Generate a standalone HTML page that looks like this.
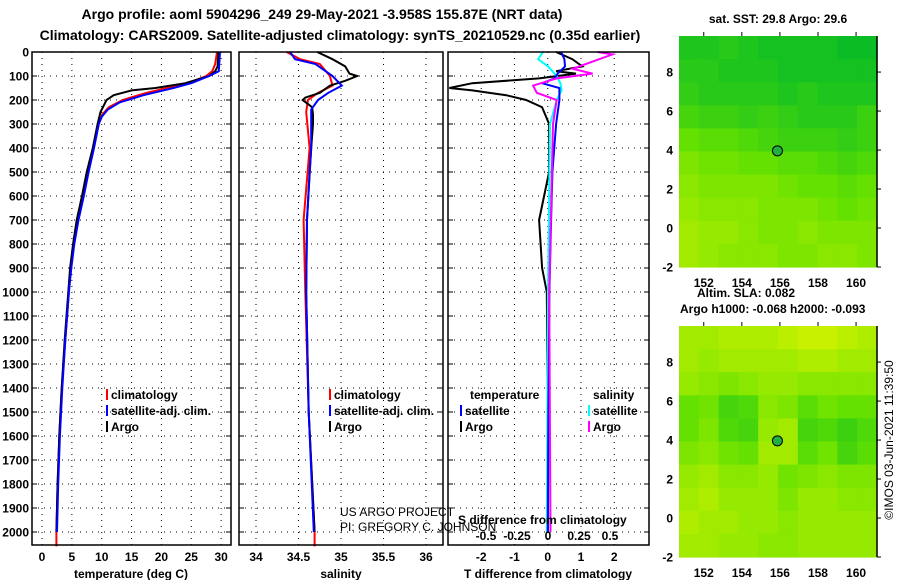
<!DOCTYPE html>
<html><head><meta charset="utf-8">
<style>
html,body{margin:0;padding:0;background:#fff;}
svg{display:block;font-family:"Liberation Sans",sans-serif;}
.b{font-weight:bold;}
</style></head>
<body>
<svg id="c" width="900" height="580" viewBox="0 0 900 580" xmlns="http://www.w3.org/2000/svg">
<text x="322" y="19" text-anchor="middle" class="b" font-size="14">Argo profile: aoml 5904296_249 29-May-2021 -3.958S 155.87E (NRT data)</text>
<text x="340" y="40" text-anchor="middle" class="b" font-size="14">Climatology: CARS2009. Satellite-adjusted climatology: synTS_20210529.nc (0.35d earlier)</text>
</svg>
<script>
// ---- data ----
const depthTicks=[0,100,200,300,400,500,600,700,800,900,1000,1100,1200,1300,1400,1500,1600,1700,1800,1900,2000];
const tempTicks=[0,5,10,15,20,25,30];
const salTicks=[34,34.5,35,35.5,36];
const salTickLabels=["34","34.5","35","35.5","36"];
const dtTicks=[-2,-1,0,1,2];
const dsTicks=[-0.5,-0.25,0,0.25,0.5];
const dsTickLabels=["-0.5","-0.25","0","0.25","0.5"];

const tArgoDepth=[0,20,60,80,100,130,150,160,180,200,250,300,400,500,600,700,800,900,1000,1200,1400,1600,1800,2000];
const tArgo=[29.5,29.5,29.4,29,28,24,19,15,12,10.8,9.8,9.3,8.5,7.5,6.7,5.8,5.2,4.7,4.4,3.8,3.3,2.9,2.6,2.4];
const tClimDepth=[0,50,80,100,130,150,170,200,230,260,300,400,500,600,700,800,900,1000,1200,1400,1600,1800,2000,2060];
const tClim=[29.3,29,28.5,27.5,24.5,21,17.5,13.5,11.2,10.1,9.5,8.6,7.5,6.8,5.9,5.3,4.8,4.5,3.9,3.3,2.9,2.6,2.4,2.4];
const tSatDepth=[0,80,100,130,150,180,210,240,270,300,400,500,600,700,800,900,1000,1200,1400,1600,1800,2000];
const tSat=[29.8,29.6,28,25,22,17,13,11,10,9.5,8.7,7.8,7,6.1,5.4,4.9,4.5,3.9,3.4,3,2.7,2.5];

const sArgoDepth=[0,30,60,90,100,120,140,170,190,200,230,260,300,400,500,700,1000,1500,2000];
const sArgo=[34.72,34.9,35.05,35.1,35.19,35.05,34.87,34.75,34.58,34.55,34.66,34.67,34.67,34.65,34.63,34.6,34.59,34.62,34.69];
const sClimDepth=[0,30,50,100,140,170,200,250,400,700,1000,1500,2000,2060];
const sClim=[34.36,34.52,34.75,34.87,34.9,34.73,34.61,34.59,34.63,34.56,34.58,34.62,34.69,34.69];
const sSatDepth=[0,30,50,100,140,170,200,240,400,700,1000,1500,2000];
const sSat=[34.4,34.46,34.7,34.9,35.01,34.85,34.73,34.65,34.65,34.6,34.59,34.62,34.68];

const dtArgoDepth=[0,30,60,80,90,110,130,150,160,180,200,230,300,500,700,900,1000,1500,2000];
const dtArgo=[0.25,0.74,1.04,0.25,0.85,-0.26,-2.27,-2.96,-2.27,-1.25,-0.65,-0.17,0.04,0.04,-0.26,-0.17,-0.03,0,0];
const dtSatDepth=[0,30,60,90,110,130,150,200,300,500,700,1000,1500,2000];
const dtSat=[0.4,0.5,0.52,0.3,0.2,-0.17,0.35,0.35,0.25,0.14,0.1,0.05,0.02,0];
const dsSatDepth=[0,30,60,100,130,160,200,300,1000,2000];
const dsSat=[-0.04,-0.08,0,0.07,0.1,0.11,0.07,0.016,0,-0.01];
const dsArgoDepth=[0,10,40,70,90,110,140,170,200,300,1000,2000];
const dsArgo=[0.4,0.52,0.36,0.2,0.36,0.07,-0.12,-0.09,0.07,0.04,0.01,0.02];

const lonTicks=[152,154,156,158,160];
const latTicks=[-2,0,2,4,6,8];
const floatLon=155.87, floatLat=3.96;
const sstGrid=[
[0.15,0.15,0.2,0.15,0.1,0.1,0.1,0.1,0.05,0.05],
[0.2,0.2,0.15,0.15,0.15,0.1,0.1,0.1,0.1,0.1],
[0.25,0.2,0.2,0.2,0.2,0.15,0.2,0.15,0.15,0.15],
[0.35,0.3,0.3,0.25,0.3,0.25,0.2,0.2,0.2,0.3],
[0.5,0.45,0.45,0.4,0.35,0.3,0.3,0.3,0.25,0.3],
[0.6,0.55,0.55,0.5,0.5,0.45,0.45,0.4,0.35,0.4],
[0.65,0.6,0.6,0.6,0.6,0.55,0.5,0.5,0.45,0.5],
[0.7,0.65,0.65,0.65,0.6,0.6,0.6,0.55,0.5,0.55],
[0.75,0.7,0.7,0.65,0.6,0.6,0.65,0.6,0.6,0.6],
[0.75,0.7,0.65,0.65,0.65,0.6,0.6,0.65,0.65,0.6]];
const slaGrid=[
[0.75,0.75,0.8,0.8,0.8,0.85,0.9,0.9,0.85,0.8],
[0.75,0.7,0.75,0.75,0.75,0.75,0.8,0.8,0.75,0.75],
[0.7,0.65,0.6,0.65,0.7,0.7,0.65,0.65,0.65,0.65],
[0.5,0.55,0.35,0.4,0.65,0.6,0.45,0.55,0.5,0.5],
[0.5,0.6,0.4,0.35,0.7,0.75,0.35,0.4,0.3,0.4],
[0.6,0.65,0.55,0.5,0.75,0.75,0.45,0.55,0.35,0.45],
[0.7,0.75,0.65,0.65,0.7,0.55,0.6,0.65,0.6,0.6],
[0.75,0.8,0.7,0.7,0.7,0.6,0.7,0.7,0.65,0.65],
[0.8,0.75,0.75,0.7,0.7,0.65,0.7,0.7,0.7,0.7],
[0.75,0.75,0.7,0.7,0.65,0.65,0.7,0.7,0.7,0.7]];

// ---- helpers ----
const svg=document.getElementById('c');
const NS='http://www.w3.org/2000/svg';
function mk(tag,attrs,parent){const e=document.createElementNS(NS,tag);for(const k in attrs)e.setAttribute(k,attrs[k]);(parent||svg).appendChild(e);return e;}
const TOP=52,BOT=545;
const yD=d=>TOP+d*0.24;
const panels=[
 {x0:32,x1:231,v0:-1.68,v1:31.65},
 {x0:239,x1:443,v0:33.8,v1:36.2},
 {x0:448,x1:649,v0:-3.0,v1:3.045}];
function sx(p,v){return p.x0+(v-p.v0)/(p.v1-p.v0)*(p.x1-p.x0);}
const sxDS=v=>548+v*124;

function grid(p,ticks){
 const g=mk('g',{});
 
 
 ticks.forEach(t=>{const x=sx(p,t);mk('line',{x1:x,x2:x,y1:TOP,y2:BOT,stroke:'#000','stroke-width':1,'stroke-dasharray':'1,5'},g);});
 depthTicks.forEach(d=>{const y=yD(d);mk('line',{x1:p.x0,x2:p.x1,y1:y,y2:y,stroke:'#000','stroke-width':1,'stroke-dasharray':'1,5'},g);
   mk('line',{x1:p.x0,x2:p.x0+5,y1:y,y2:y,stroke:'#000'},g);mk('line',{x1:p.x1-5,x2:p.x1,y1:y,y2:y,stroke:'#000'},g);});
}
function frame(p,name){const r=mk('rect',{x:p.x0,y:TOP,width:p.x1-p.x0,height:BOT-TOP,fill:'none',stroke:'#000','stroke-width':1.5});
 
 }
function line(xs,ds,fx,color,name){
 const pts=xs.map((v,i)=>fx(v).toFixed(1)+','+yD(ds[i]).toFixed(1)).join(' ');
 const l=mk('polyline',{points:pts,fill:'none',stroke:color,'stroke-width':2});
 
 
}
function txt(x,y,s,attrs,name){const t=mk('text',Object.assign({x:x,y:y,'font-size':12},attrs||{}));t.textContent=s;
 
 return t;}

// depth labels
depthTicks.forEach(d=>{txt(29,yD(d)+4.5,String(d),{'text-anchor':'end','font-weight':'bold'},'depth-tick-label');});

// panel 1 temperature
const P1=panels[0],P2=panels[1],P3=panels[2];
grid(P1,tempTicks);
line(tClim,tClimDepth,v=>sx(P1,v),'#f00','temp-climatology-line');
line(tArgo,tArgoDepth,v=>sx(P1,v),'#000','temp-argo-line');
line(tSat,tSatDepth,v=>sx(P1,v),'#00f','temp-satellite-line');
frame(P1,'temperature-panel');
tempTicks.forEach(t=>txt(sx(P1,t),561,String(t),{'text-anchor':'middle','font-weight':'bold'},'temp-tick-label'));
txt(131,578,'temperature (deg C)',{'text-anchor':'middle','font-weight':'bold'},'temp-axis-title');

// panel 2 salinity
grid(P2,salTicks);
line(sClim,sClimDepth,v=>sx(P2,v),'#f00','sal-climatology-line');
line(sArgo,sArgoDepth,v=>sx(P2,v),'#000','sal-argo-line');
line(sSat,sSatDepth,v=>sx(P2,v),'#00f','sal-satellite-line');
frame(P2,'salinity-panel');
salTicks.forEach((t,i)=>txt(sx(P2,t),561,salTickLabels[i],{'text-anchor':'middle','font-weight':'bold'},'sal-tick-label'));
txt(341,578,'salinity',{'text-anchor':'middle','font-weight':'bold'},'sal-axis-title');

// panel 3 differences
grid(P3,dtTicks);
line(dtArgo,dtArgoDepth,v=>sx(P3,v),'#000','dt-argo-line');
line(dsSat,dsSatDepth,sxDS,'#0ff','ds-satellite-line');
line(dtSat,dtSatDepth,v=>sx(P3,v),'#00f','dt-satellite-line');
line(dsArgo,dsArgoDepth,sxDS,'#f0f','ds-argo-line');
frame(P3,'difference-panel');
dtTicks.forEach(t=>txt(sx(P3,t),561,String(t),{'text-anchor':'middle','font-weight':'bold'},'dt-tick-label'));
txt(548,578,'T difference from climatology',{'text-anchor':'middle','font-weight':'bold'},'dt-axis-title');
dsTicks.forEach((t,i)=>txt(sxDS(t),540,dsTickLabels[i],{'text-anchor':'middle','font-weight':'bold'},'ds-tick-label'));
txt(458,524,'S difference from climatology',{'font-weight':'bold'},'ds-axis-title');

// legends
function leg(x,y,color,label){mk('rect',{x:x,y:y-10,width:2,height:11,fill:color});txt(x+5,y,label,{'font-weight':'bold'},'legend-entry');}
leg(106,399,'#f00','climatology');leg(106,415,'#00f','satellite-adj. clim.');leg(106,431,'#000','Argo');
leg(329,399,'#f00','climatology');leg(329,415,'#00f','satellite-adj. clim.');leg(329,431,'#000','Argo');
txt(470,399,'temperature',{'font-weight':'bold'},'legend-heading');
leg(460,415,'#00f','satellite');leg(460,431,'#000','Argo');
txt(593,399,'salinity',{'font-weight':'bold'},'legend-heading');
leg(588,415,'#0ff','satellite');leg(588,431,'#f0f','Argo');
txt(340,516,'US ARGO PROJECT',{},'project-credit');
txt(340,531,'PI: GREGORY C. JOHNSON',{},'pi-credit');

// maps
const LON0=150.7,LON1=161.1,LAT0=-2,LAT1=9.85,MX0=679,MX1=877;
function cmap(v){
 let r,g,b;
 if(v<0.5){const t=v/0.5;r=0+t*100;g=185+t*40;b=40-t*40;}
 else{const t=(v-0.5)/0.5;r=100+t*125;g=225+t*20;b=0;}
 return `rgb(${r|0},${g|0},${b|0})`;
}
function map(top,bot,gridData,name){
 const g=mk('g',{});
 
 
 const lx=v=>MX0+(v-LON0)/(LON1-LON0)*(MX1-MX0);
 const ly=v=>bot-(v-LAT0)/(LAT1-LAT0)*(bot-top);
 const rows=gridData.length,cols=gridData[0].length;
 const cw=(MX1-MX0)/cols,ch=(bot-top)/rows;
 gridData.forEach((row,i)=>row.forEach((v,j)=>{
   mk('rect',{x:MX0+j*cw,y:top+i*ch,width:cw+0.6,height:ch+0.6,fill:cmap(v)},g);
 }));
 mk('line',{x1:MX1,x2:MX1,y1:top,y2:bot,stroke:'#000','stroke-width':1.5},g);
 lonTicks.forEach(t=>{const x=lx(t);mk('line',{x1:x,x2:x,y1:top-4,y2:top,stroke:'#000'},g);
   txt(x,bot+20,String(t),{'text-anchor':'middle','font-weight':'bold'},'lon-tick-label');});
 latTicks.forEach(t=>{const y=ly(t);mk('line',{x1:MX1,x2:MX1+4,y1:y,y2:y,stroke:'#000'},g);
   txt(673,y+4.5,String(t),{'text-anchor':'end','font-weight':'bold'},'lat-tick-label');});
 const c=mk('circle',{cx:lx(floatLon),cy:ly(floatLat),r:5,fill:'#20b040',stroke:'#000','stroke-width':1},g);
 
 
}
map(36,267,sstGrid,'sst-map');
map(326,557,slaGrid,'sla-map');
txt(778,23,'sat. SST: 29.8 Argo: 29.6',{'text-anchor':'middle','font-weight':'bold'},'sst-map-title');
txt(697,297,'Altim. SLA: 0.082',{'font-weight':'bold'},'sla-value-label');
txt(680,313,'Argo h1000: -0.068 h2000: -0.093',{'font-weight':'bold'},'argo-height-label');
const cr=txt(0,0,'©IMOS 03-Jun-2021 11:39:50',{'text-anchor':'middle','transform':'translate(893,440) rotate(-90)'},'copyright-stamp');
</script>
</body></html>
